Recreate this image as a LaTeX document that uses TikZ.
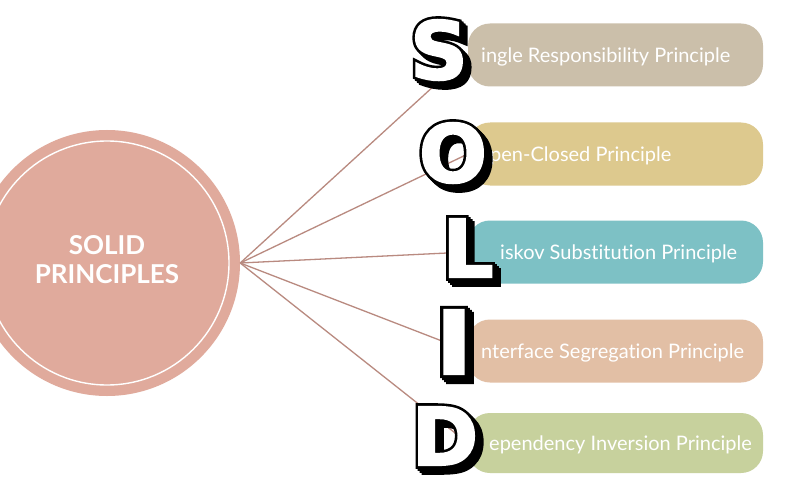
\documentclass[tikz,border=0pt]{standalone}
\usepackage{fontspec}
\setmainfont{Lato}[Ligatures=NoCommon]
\newfontfamily\letterwhite{DejaVu Sans Bold}[FakeBold=2.5]
\newfontfamily\letterblack{DejaVu Sans Bold}[FakeBold=9]
\usetikzlibrary{calc}
\definecolor{circcol}{HTML}{E0AA9C}
\definecolor{spokecol}{HTML}{B98A80}
\definecolor{colS}{HTML}{CBBFAA}
\definecolor{colO}{HTML}{DDC98E}
\definecolor{colL}{HTML}{7DC1C5}
\definecolor{colI}{HTML}{E2BFA5}
\definecolor{colD}{HTML}{C7D19D}
\tikzset{
  pill/.style={rectangle, rounded corners=22pt, minimum width=295pt, minimum height=63pt, inner sep=0pt, draw=none},
  pilltext/.style={anchor=base west, text=white, font=\fontsize{20}{23}\selectfont, inner sep=0pt},
  spoke/.style={draw=spokecol, line width=1.3pt},
  lettershadow/.style={font=\letterblack\fontsize{80}{80}\selectfont, inner sep=0pt, text=black},
  letterface/.style={font=\letterwhite\fontsize{80}{80}\selectfont, inner sep=0pt, text=white},
  titletext/.style={text=white, align=center, font=\bfseries\fontsize{26}{29}\selectfont, inner sep=0pt},
}
\newcommand\blockletter[4][]{%
  \foreach \k in {6,4,2,0}{%
      \node[lettershadow,#1] at ($(#3)+(\k,\k)$) {#4};}%
  \node[letterface,#1] (#2) at (#3) {#4};}
\begin{document}
\begin{tikzpicture}[x=1pt,y=-1pt]
\useasboundingbox (0,0) rectangle (800,500);
\clip (0,0) rectangle (800,500);
\fill[white] (0,0) rectangle (800,500);
% central circle
\node[circle, fill=circcol, minimum size=266pt, inner sep=0pt] (circ) at (107,263) {};
\node[circle, draw=white, line width=1.4pt, minimum size=244pt, inner sep=0pt] (ring) at (circ.center) {};
\node[titletext] (title) at (107,260) {SOLID\\PRINCIPLES};
% pills
\node[pill, fill=colS] (pS) at (615.5,55) {};
\node[pill, fill=colO] (pO) at (615.5,154) {};
\node[pill, fill=colL] (pL) at (615.5,252) {};
\node[pill, fill=colI] (pI) at (615.5,351) {};
\node[pill, fill=colD, minimum height=60pt] (pD) at (615.5,443) {};
% texts
\node[pilltext] (tS) at (481,62.7) {ingle Responsibility Principle};
\node[pilltext] (tO) at (490,161.7) {pen-Closed Principle};
\node[pilltext] (tL) at (500,259.7) {iskov Substitution Principle};
\node[pilltext] (tI) at (481,358.7) {nterface Segregation Principle};
\node[pilltext] (tD) at (489,450.7) {ependency Inversion Principle};
% spokes
\draw[spoke] (circ.east) -- (pS.west);
\draw[spoke] (circ.east) -- (pO.west);
\draw[spoke] (circ.east) -- (pL.west);
\draw[spoke] (circ.east) -- (pI.west);
\draw[spoke] (circ.east) -- (pD.west);
% block letters
\blockletter{lS}{439,50}{S}
\blockletter{lO}{453,153}{O}
\blockletter{lL}{468,248}{L}
\blockletter[yscale=1.1,xscale=1.25]{lI}{454,342}{I}
\blockletter{lD}{445,436}{D}
\end{tikzpicture}
\end{document}
